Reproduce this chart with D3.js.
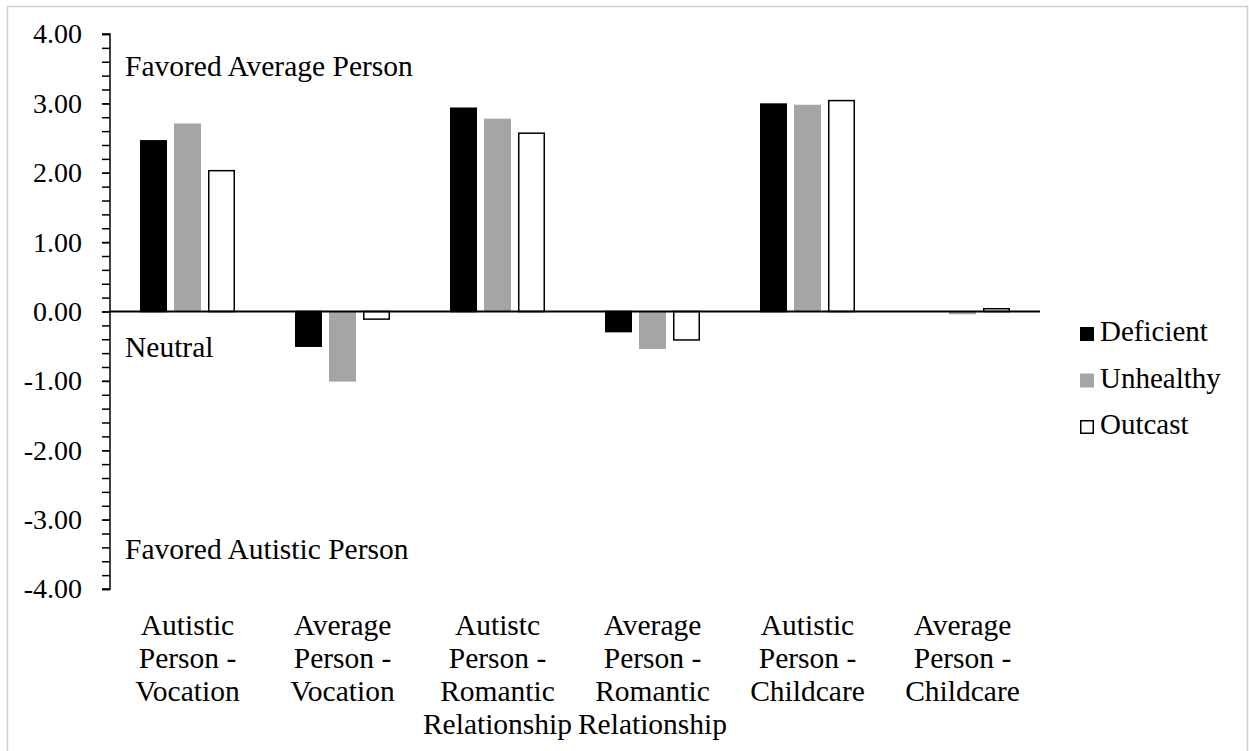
<!DOCTYPE html>
<html>
<head>
<meta charset="utf-8">
<script src="https://cdn.jsdelivr.net/npm/d3@7"></script>
<style>
  html, body { margin: 0; padding: 0; background: #fff; }
  svg { display: block; }
  text { font-family: "Liberation Serif", "Times New Roman", Times, serif; fill: #000; }
</style>
</head>
<body>
<svg id="chart" width="1249" height="751"></svg>
<script>
// Group labels (line breaks as they appear under the axis)
const categories = [
  ["Autistic", "Person -", "Vocation"],
  ["Average", "Person -", "Vocation"],
  ["Autistc", "Person -", "Romantic", "Relationship"],
  ["Average", "Person -", "Romantic", "Relationship"],
  ["Autistic", "Person -", "Childcare"],
  ["Average", "Person -", "Childcare"]
];
const seriesNames = ["Deficient", "Unhealthy", "Outcast"];
const deficient = [2.46, -0.50, 2.93, -0.29, 2.99, 0.00];
const unhealthy = [2.71, -1.01, 2.78, -0.54, 2.98, -0.04];
const outcast   = [2.03, -0.11, 2.57, -0.41, 3.04, 0.04];
const yTicks = [-4, -3, -2, -1, 0, 1, 2, 3, 4];
const annotations = [
  { text: "Favored Average Person", value: 3.53 },
  { text: "Neutral", value: -0.53 },
  { text: "Favored Autistic Person", value: -3.44 }
];

const seriesValues = [deficient, unhealthy, outcast];
const fills   = ["#000000", "#a5a5a5", "#ffffff"];
const strokes = ["#000000", "none", "#000000"];
const FONT = '"Liberation Serif", "Times New Roman", Times, serif';

const svg = d3.select("#chart");

// Outer frame
svg.append("rect")
  .attr("x", 7.5).attr("y", 6.5)
  .attr("width", 1240).attr("height", 760)
  .attr("fill", "none").attr("stroke", "#cfcfcf").attr("stroke-width", 1.5);

const plot = { left: 110, right: 1040, top: 34, bottom: 589 };

const y = d3.scaleLinear().domain([-4, 4]).range([plot.bottom, plot.top]);
const x0 = d3.scaleBand()
  .domain(d3.range(categories.length))
  .range([plot.left, plot.right])
  .paddingInner(0).paddingOuter(0);
const groupWidth = 95;
const x1 = d3.scaleBand()
  .domain(seriesNames)
  .range([(x0.bandwidth() - groupWidth) / 2, (x0.bandwidth() + groupWidth) / 2])
  .paddingInner(7 / 34).paddingOuter(0);

// Bars
const groups = svg.append("g").selectAll("g")
  .data(categories.map((c, i) => i))
  .join("g")
  .attr("transform", i => `translate(${x0(i)},0)`);

groups.selectAll("rect")
  .data(i => seriesNames.map((s, k) => ({ s, k, v: seriesValues[k][i] })))
  .join("rect")
  .attr("x", d => x1(d.s) + (strokes[d.k] !== "none" ? 0.75 : 0))
  .attr("width", d => x1.bandwidth() - (strokes[d.k] !== "none" ? 1.5 : 0))
  .attr("y", d => Math.min(y(d.v), y(0)))
  .attr("height", d => Math.abs(y(d.v) - y(0)))
  .attr("fill", d => fills[d.k])
  .attr("stroke", d => strokes[d.k])
  .attr("stroke-width", 1.5);

// Y axis with minor ticks every 0.2
const minor = d3.range(-4, 4.0001, 0.2).map(v => Math.round(v * 10) / 10);
const yAxisMinor = d3.axisLeft(y).tickValues(minor).tickSize(8).tickFormat("");
const gMinor = svg.append("g").attr("transform", `translate(${plot.left},0)`).call(yAxisMinor);
gMinor.select(".domain").remove();
gMinor.selectAll("line").attr("stroke", "#000").attr("stroke-width", 1.5);

const fmt = d3.format(".2f");
const yAxis = d3.axisLeft(y).tickValues(yTicks).tickSize(8).tickPadding(20)
  .tickFormat(d => fmt(d).replace("\u2212", "-"));
const gY = svg.append("g").attr("transform", `translate(${plot.left},0)`).call(yAxis);
gY.attr("font-family", null).attr("font-size", null);
gY.select(".domain").attr("stroke", "#000").attr("stroke-width", 1.5)
  .attr("d", `M-8,${y(4)}H0V${y(-4)}H-8`);
gY.selectAll("line").attr("stroke", "#000").attr("stroke-width", 1.5);
gY.selectAll("text")
  .style("font-family", FONT)
  .style("font-size", "28px").attr("fill", "#000");

// Zero baseline
svg.append("line")
  .attr("x1", plot.left).attr("x2", plot.right)
  .attr("y1", y(0)).attr("y2", y(0))
  .attr("stroke", "#000").attr("stroke-width", 2);

// Category labels
const labels = svg.append("g").selectAll("text")
  .data(categories.map((c, i) => ({ c, i })))
  .join("text")
  .attr("text-anchor", "middle")
  .attr("x", d => x0(d.i) + x0.bandwidth() / 2)
  .attr("y", 635)
  .style("font-family", FONT)
  .style("font-size", "29.5px");
labels.selectAll("tspan")
  .data(d => d.c.map((line, j) => ({ line, j, x: x0(d.i) + x0.bandwidth() / 2 })))
  .join("tspan")
  .attr("x", d => d.x)
  .attr("dy", d => d.j === 0 ? 0 : 33)
  .text(d => d.line);

// Annotations inside the plot
svg.append("g").selectAll("text")
  .data(annotations)
  .join("text")
  .attr("x", 125)
  .attr("y", d => y(d.value) + 9)
  .style("font-family", FONT)
  .style("font-size", "29.5px")
  .text(d => d.text);

// Legend
const legend = svg.append("g").selectAll("g")
  .data(seriesNames.map((s, k) => ({ s, k })))
  .join("g")
  .attr("transform", d => `translate(1080,${327 + d.k * 46.5})`);
legend.append("rect")
  .attr("x", d => strokes[d.k] !== "none" ? 0.75 : 0)
  .attr("y", d => strokes[d.k] !== "none" ? 0.75 : 0)
  .attr("width", d => strokes[d.k] !== "none" ? 12.5 : 14)
  .attr("height", d => strokes[d.k] !== "none" ? 12.5 : 14)
  .attr("fill", d => fills[d.k])
  .attr("stroke", d => strokes[d.k])
  .attr("stroke-width", 1.5);
legend.append("text")
  .attr("x", 20).attr("y", 14)
  .style("font-family", FONT)
  .style("font-size", "29px")
  .text(d => d.s);
</script>
</body>
</html>
